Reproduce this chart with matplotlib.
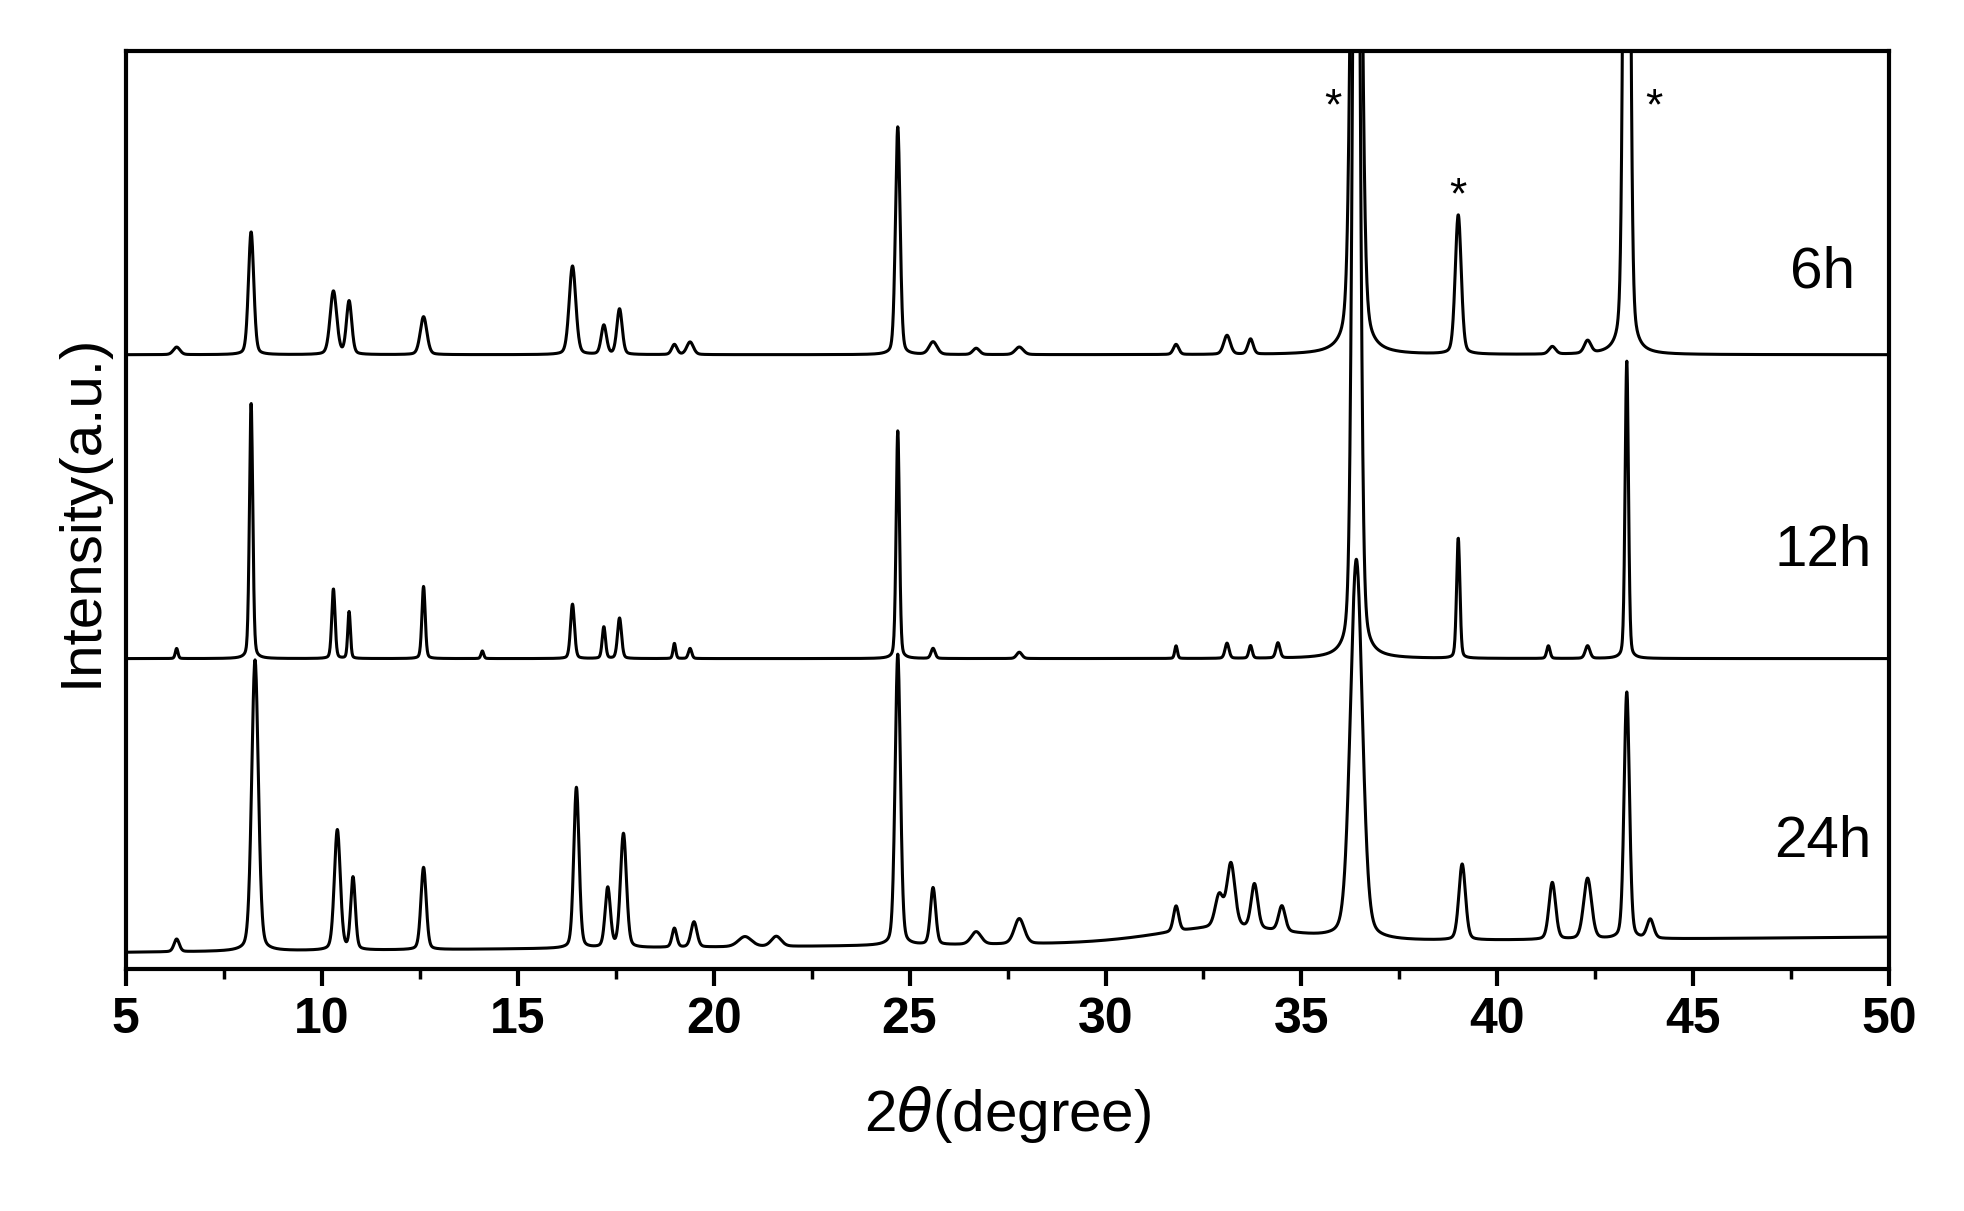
import numpy as np
import matplotlib.pyplot as plt

plt.rcParams['font.family'] = ['Liberation Sans', 'DejaVu Sans']

# peak lists: position (2theta), height, half-width
pos_6h = [6.3, 8.2, 10.3, 10.7, 12.6, 16.4, 17.2, 17.6, 19.0, 19.4, 24.7, 25.6, 26.7, 27.8, 31.8, 33.1, 33.7, 36.4, 39.0, 41.4, 42.3, 43.3]
hgt_6h = [6, 97, 50, 42, 30, 70, 23, 36, 8, 10, 180, 10, 5, 6, 8, 15, 12, 900, 110, 6, 10, 900]
wid_6h = [0.1, 0.08, 0.1, 0.08, 0.1, 0.1, 0.08, 0.08, 0.08, 0.1, 0.07, 0.12, 0.1, 0.12, 0.08, 0.1, 0.08, 0.12, 0.09, 0.1, 0.1, 0.08]
base_6h = 485

pos_12h = [6.3, 8.2, 10.3, 10.7, 12.6, 14.1, 16.4, 17.2, 17.6, 19.0, 19.4, 24.7, 25.6, 27.8, 31.8, 33.1, 33.7, 34.4, 36.4, 39.0, 41.3, 42.3, 43.3]
hgt_12h = [8, 202, 55, 37, 57, 6, 43, 25, 32, 12, 8, 180, 8, 5, 10, 12, 10, 12, 900, 95, 10, 10, 235]
wid_12h = [0.04, 0.05, 0.05, 0.04, 0.05, 0.04, 0.06, 0.05, 0.06, 0.04, 0.05, 0.05, 0.06, 0.08, 0.04, 0.06, 0.05, 0.06, 0.1, 0.05, 0.05, 0.07, 0.05]
base_12h = 245

pos_24h = [6.3, 8.3, 10.4, 10.8, 12.6, 16.5, 17.3, 17.7, 19.0, 19.5, 20.8, 21.6, 24.7, 25.6, 26.7, 27.8, 31.8, 32.9, 33.2, 33.8, 34.5, 36.4, 39.1, 41.4, 42.3, 43.3, 43.9, 33.0]
hgt_24h = [10, 230, 95, 57, 65, 127, 47, 90, 15, 20, 8, 8, 230, 45, 10, 20, 20, 25, 50, 35, 20, 300, 60, 45, 48, 195, 15, 12]
wid_24h = [0.08, 0.1, 0.09, 0.07, 0.08, 0.08, 0.08, 0.09, 0.07, 0.09, 0.2, 0.15, 0.08, 0.08, 0.15, 0.15, 0.08, 0.12, 0.12, 0.1, 0.1, 0.18, 0.1, 0.1, 0.12, 0.08, 0.1, 2.0]
base_24h_left, base_24h_right = 13, 25

labels = ["6h", "12h", "24h"]
label_y = [550, 330, 100]
star_x = [35.8, 39.0, 44.0]
star_y = [680, 610, 680]

x = np.linspace(5, 50, 6000)
eta = 0.25

def profile(p, h, w):
    y = np.zeros_like(x)
    for pi, hi, wi in zip(p, h, w):
        d = (x - pi) / wi
        y += hi * (eta / (1 + d ** 2) + (1 - eta) * np.exp(-np.log(2) * d ** 2))
    return y

y6 = base_6h + profile(pos_6h, hgt_6h, wid_6h)
y12 = base_12h + profile(pos_12h, hgt_12h, wid_12h)
y24 = np.interp(x, [5, 50], [base_24h_left, base_24h_right]) + profile(pos_24h, hgt_24h, wid_24h)

fig = plt.figure(figsize=(19.64, 12.11), dpi=100)
ax = fig.add_axes([0.064, 0.2, 0.898, 0.758])
for y in (y6, y12, y24):
    ax.plot(x, y, color='black', lw=2.2)
ax.set_xlim(5, 50)
ax.set_ylim(0, 725)
ax.set_yticks([])
ax.set_xticks(range(5, 51, 5))
ax.set_xticks(np.arange(7.5, 50, 5), minor=True)
ax.tick_params(axis='x', which='major', length=12, width=3, direction='out', labelsize=36, pad=8)
ax.tick_params(axis='x', which='minor', length=7, width=2.5, direction='out')
for lab in ax.get_xticklabels():
    lab.set_fontweight('bold')
for s in ax.spines.values():
    s.set_linewidth(3)
for lab, ly in zip(labels, label_y):
    ax.text(48.3, ly, lab, fontsize=42, ha='center', va='center')
for sx, sy in zip(star_x, star_y):
    ax.text(sx, sy, '*', fontsize=32, ha='center', va='center')
ax.set_xlabel(r'2$\theta$(degree)', fontsize=42, labelpad=30)
ax.set_ylabel('Intensity(a.u.)', fontsize=42, labelpad=12)
fig.savefig('out.png', dpi=100)
